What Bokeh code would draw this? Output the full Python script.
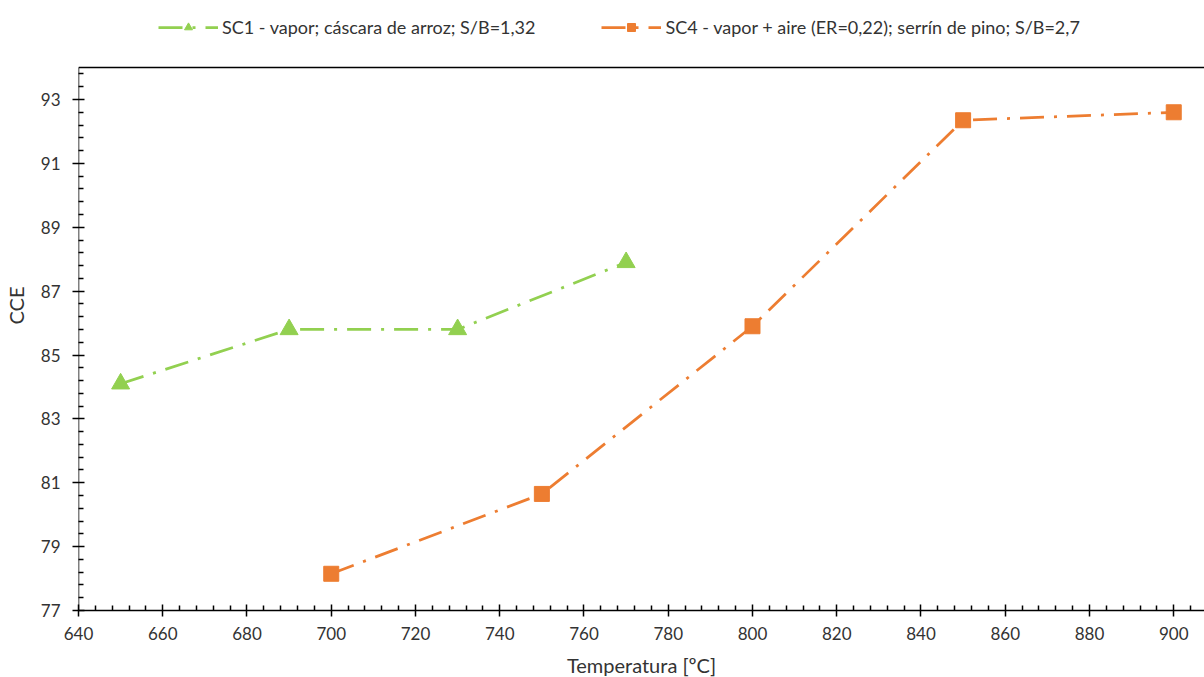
from bokeh.plotting import figure
from bokeh.models import (Legend, LegendItem, FixedTicker, Span, Range1d)
from bokeh.embed import file_html
from bokeh.resources import INLINE

# Data
sc1_temp = [650, 690, 730, 770]
sc1_cce = [84.1, 85.8, 85.8, 87.9]
sc4_temp = [700, 750, 800, 850, 900]
sc4_cce = [78.15, 80.65, 85.9, 92.35, 92.6]
sc1_label = "SC1 - vapor; cáscara de arroz; S/B=1,32"
sc4_label = "SC4 - vapor + aire (ER=0,22); serrín de pino; S/B=2,7"
x_ticks = list(range(640, 901, 20))
y_ticks = list(range(77, 94, 2))
x_min, x_max = 640, 907.3
y_min, y_top = 77, 94          # plotted box
y_view_max = 96.1              # room for the legend above the box

FONT = "Lato"
GREEN = "#92D050"
ORANGE = "#ED7D31"
DASH = "24 10 3 10"

p = figure(frame_width=1126, frame_height=610, output_backend="svg", toolbar_location=None,
           x_range=Range1d(x_min, x_max), y_range=Range1d(y_min, y_view_max),
           min_border_left=78, min_border_right=0, min_border_bottom=67,
           min_border_top=0)
p.outline_line_color = None
p.xgrid.visible = False
p.ygrid.visible = False
p.background_fill_color = "white"
p.border_fill_color = "white"

# box: top border and left axis line (only up to the box top)
p.add_layout(Span(location=y_top, dimension="width", line_color="black", line_width=1.5))
p.segment(x0=[x_min], y0=[y_min], x1=[x_min], y1=[y_top], line_color="black", line_width=1.5)

r1l = p.line(sc1_temp, sc1_cce, line_color=GREEN, line_width=2.75, line_dash=DASH)
r1m = p.scatter(sc1_temp, sc1_cce, marker="triangle", size=18, fill_color=GREEN,
                line_color=GREEN)
r2l = p.line(sc4_temp, sc4_cce, line_color=ORANGE, line_width=2.75, line_dash=DASH)
r2m = p.scatter(sc4_temp, sc4_cce, marker="square", size=15, fill_color=ORANGE,
                line_color=ORANGE)

xminor = [v for v in range(640, 908, 4) if v % 20 != 0]
yminor = [round(77 + 0.4 * i, 2) for i in range(0, 43)]
yminor = [v for v in yminor if abs((v - 77) / 2 - round((v - 77) / 2)) > 1e-6]

for ax, ticks, minor in ((p.xaxis[0], x_ticks, xminor), (p.yaxis[0], y_ticks, yminor)):
    ax.ticker = FixedTicker(ticks=ticks, minor_ticks=minor)
    ax.axis_line_color = "black"
    ax.axis_line_width = 1.5
    ax.major_tick_line_color = "black"
    ax.major_tick_line_width = 1.5
    ax.minor_tick_line_color = "black"
    ax.minor_tick_line_width = 1.5
    ax.major_tick_in = 6
    ax.major_tick_out = 6
    ax.minor_tick_in = 5
    ax.minor_tick_out = 0
    ax.major_label_text_font = FONT
    ax.major_label_text_font_size = "17px"
    ax.major_label_text_color = "#333333"
    ax.axis_label_text_font = FONT
    ax.axis_label_text_font_size = "20px"
    ax.axis_label_text_color = "#333333"
    ax.axis_label_text_font_style = "normal"

p.yaxis.axis_line_color = None
p.xaxis.axis_label = "Temperatura [ºC]"
p.yaxis.axis_label = "CCE"
p.xaxis.major_label_standoff = 10
p.xaxis.axis_label_standoff = 10
p.yaxis.major_label_standoff = 12
p.yaxis.axis_label_standoff = 10

legend = Legend(items=[LegendItem(label=sc1_label, renderers=[r1l, r1m]),
                       LegendItem(label=sc4_label, renderers=[r2l, r2m])],
                orientation="horizontal", location=(80, 572),
                label_text_font=FONT, label_text_font_size="18px",
                label_text_color="#333333", border_line_color=None,
                background_fill_alpha=0, label_standoff=4,
                glyph_width=60, spacing=66, margin=0, padding=6)
p.add_layout(legend, "center")

open("out.html", "w").write(file_html(p, INLINE))
